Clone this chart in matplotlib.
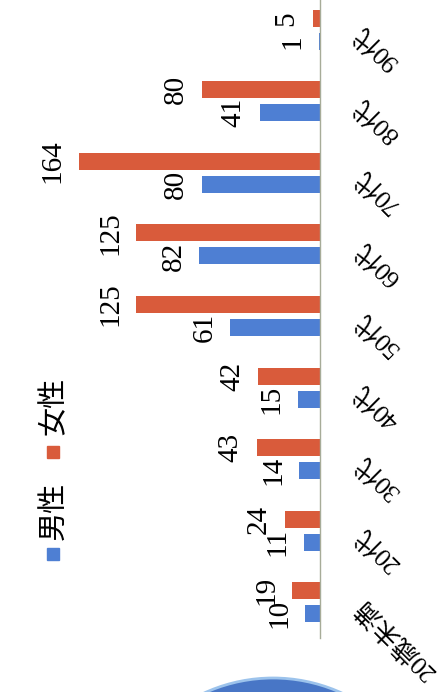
import matplotlib
import matplotlib.pyplot as plt
from matplotlib.patches import Rectangle, Circle

matplotlib.use('Agg')

# 年代別・男女別の人数
categorias = ['20歳未満', '20代', '30代', '40代', '50代', '60代', '70代', '80代', '90代']
masculino = [10, 11, 14, 15, 61, 82, 80, 41, 1]
feminino = [19, 24, 43, 42, 125, 125, 164, 80, 5]
legenda = ['男性', '女性']

COR_M = '#4E7FD3'
COR_F = '#D95B3B'
FONTE_NUM = ['Liberation Serif', 'DejaVu Serif']
FONTE_JP = ['Liberation Serif', 'Noto Sans CJK JP', 'DejaVu Sans']

W, H = 443, 692
fig = plt.figure(figsize=(W / 100, H / 100), dpi=100)
fig.patch.set_facecolor('white')

# Main axes: the bar chart is turned on its side, bars grow to the left
ax = fig.add_axes([0, (H - 638) / H, 320 / W, 644 / H])
ax.set_facecolor('none')

pos = list(range(len(categorias)))
desloc = 0.161
altura = 0.238
ax.barh([p - desloc for p in pos], masculino, height=altura, color=COR_M, zorder=2)
ax.barh([p + desloc for p in pos], feminino, height=altura, color=COR_F, zorder=2)

ax.set_xlim(320 / 1.47, 0)
ax.set_ylim(-0.5, len(categorias) - 0.5)
ax.set_xticks([])

for lado in ['top', 'left', 'bottom']:
    ax.spines[lado].set_visible(False)
ax.spines['right'].set_color('#A7AC98')
ax.spines['right'].set_linewidth(1.0)

# Category labels on the right side, slanted
ax.set_yticks(pos)
ax.set_yticklabels(categorias, family=FONTE_JP, fontsize=18.5)
ax.tick_params(axis='y', left=False, right=False, labelleft=False,
               labelright=True, length=0, pad=28)
for t in ax.get_yticklabels():
    t.set_rotation(135)
    t.set_rotation_mode('anchor')
    t.set_ha('right')
    t.set_va('center')

# Value labels at the end of each bar
for p, v in zip(pos, masculino):
    ax.annotate(str(v), xy=(v, p - desloc), xytext=(-13.7, 0),
                textcoords='offset points', rotation=90, rotation_mode='anchor',
                ha='center', va='baseline', family=FONTE_NUM, fontsize=21)
for p, v in zip(pos, feminino):
    ax.annotate(str(v), xy=(v, p + desloc), xytext=(-13.7, 0),
                textcoords='offset points', rotation=90, rotation_mode='anchor',
                ha='center', va='baseline', family=FONTE_NUM, fontsize=21)

# Overlay in pixel units for the legend and the blue disc below
deco = fig.add_axes([0, 0, 1, 1])
deco.set_xlim(0, W)
deco.set_ylim(H, 0)
deco.axis('off')
deco.set_facecolor('none')

deco.add_patch(Rectangle((47, 548), 12, 12, color=COR_M))
deco.text(54, 511, legenda[0], rotation=90, ha='center', va='center',
          family=FONTE_JP, fontsize=21)
deco.add_patch(Rectangle((47, 446), 12, 12, color=COR_F))
deco.text(54, 406, legenda[1], rotation=90, ha='center', va='center',
          family=FONTE_JP, fontsize=21)

deco.add_patch(Circle((273, 843), 165, facecolor='#4876C6',
                      edgecolor='#9CC3EC', linewidth=2))

fig.savefig('out.png', dpi=100)
plt.close(fig)
